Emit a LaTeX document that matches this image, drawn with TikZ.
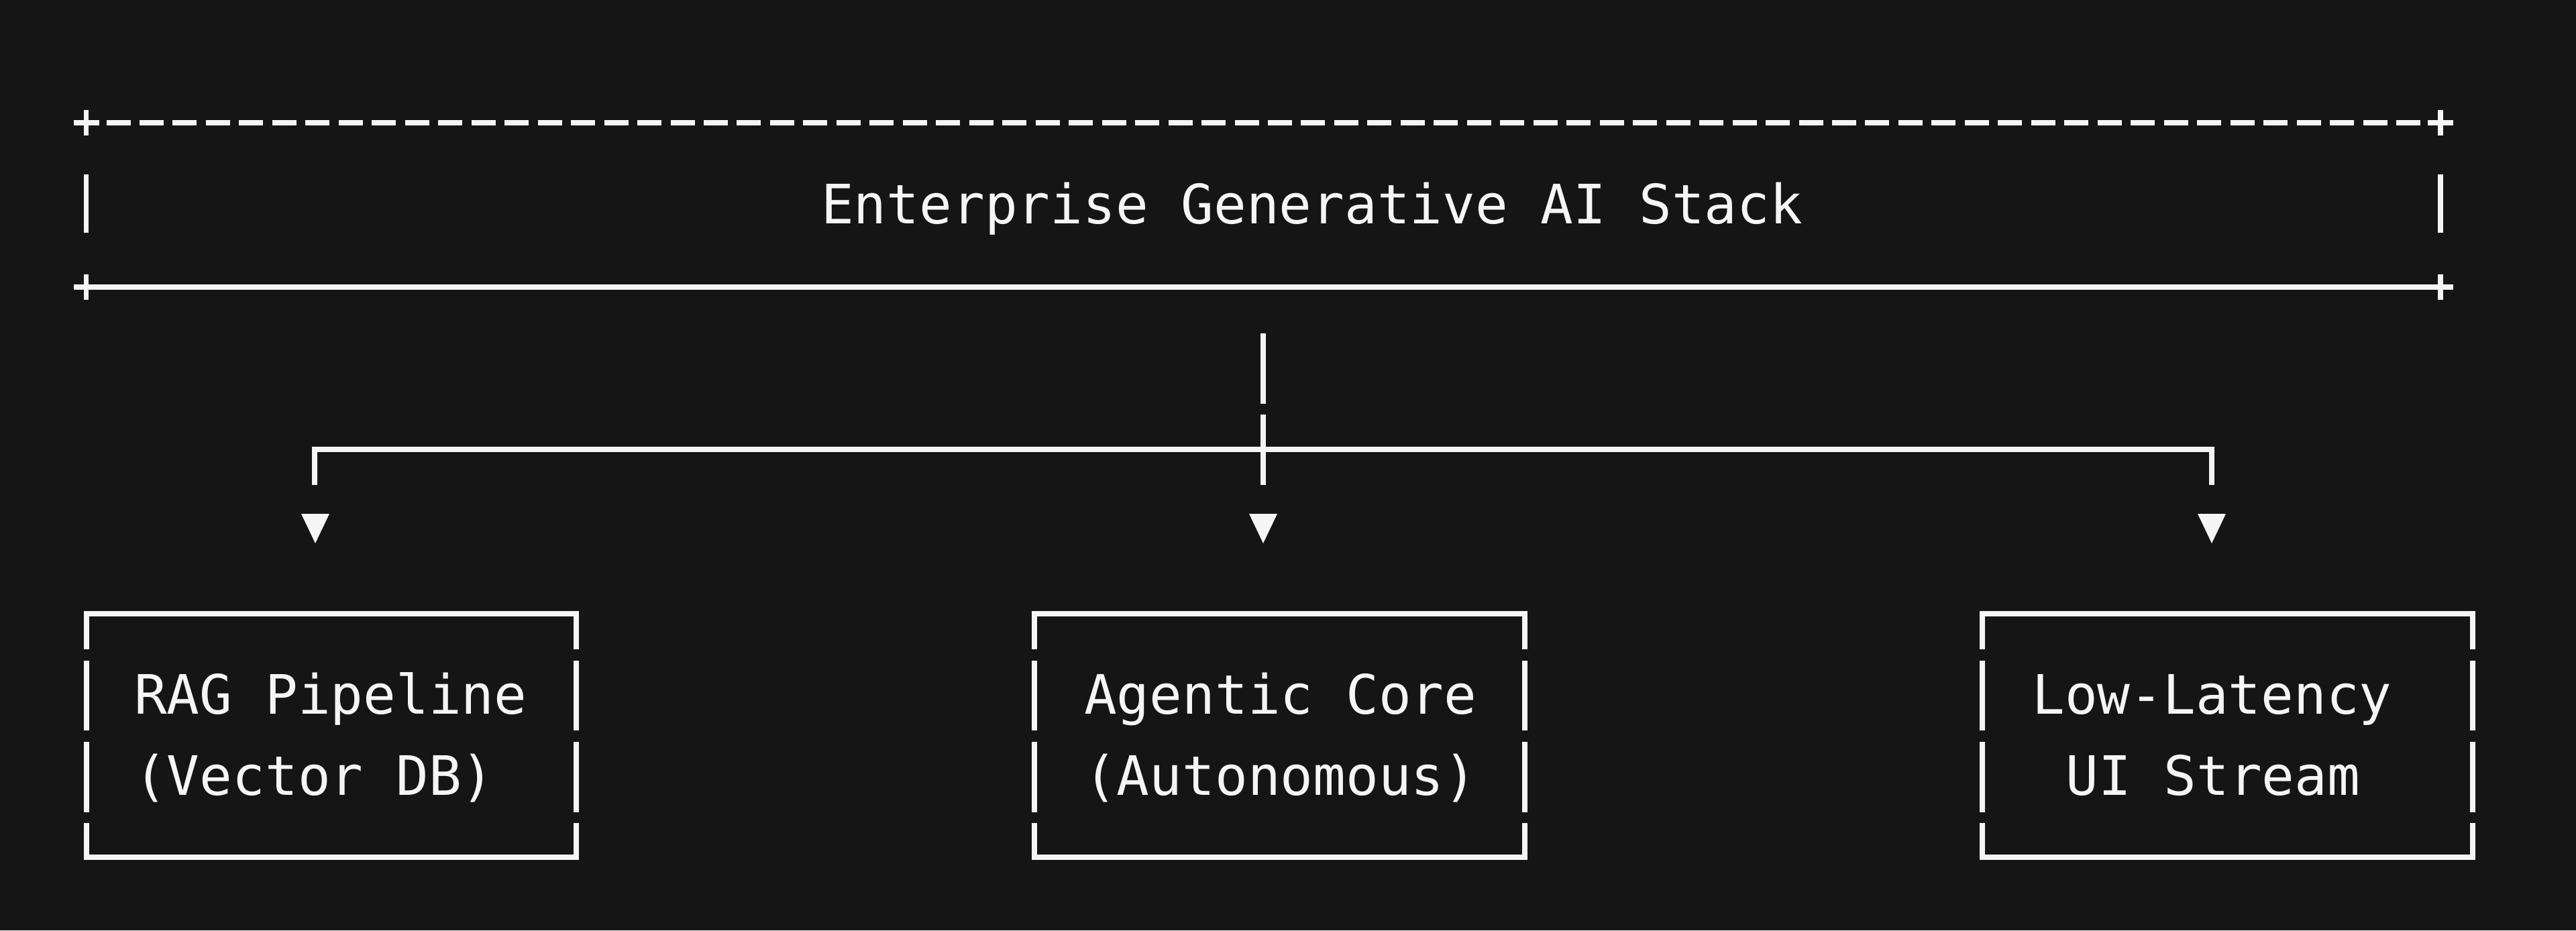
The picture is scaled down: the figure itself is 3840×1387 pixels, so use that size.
\documentclass[tikz,border=0pt]{standalone}
\usepackage{fontspec}
\setmonofont{DejaVu Sans Mono}
\definecolor{bg}{RGB}{21,21,21}
\definecolor{fg}{RGB}{245,245,245}
\begin{document}
\begin{tikzpicture}[x=1pt,y=-1pt,
  ln/.style={draw=fg,line width=7.5pt},
  dashln/.style={draw=fg,line width=7.5pt,dash pattern=on 36pt off 13.47pt},
  lbl/.style={text=fg,font=\ttfamily\fontsize{81}{121}\selectfont,inner sep=0pt,anchor=base west},
  tri/.style={fill=fg}]
\fill[bg] (0,0) rectangle (3840,1387);
\useasboundingbox (0,0) rectangle (3840,1387);

% ---- top box (ASCII frame) ----
\coordinate (tl) at (128.5,183);
\coordinate (tr) at (3638,183);
\coordinate (bl) at (128.5,428);
\coordinate (br) at (3638,428);
\draw[dashln] (158.5,183) -- (3608,183);
\foreach \p in {tl,tr,bl,br}{
  \draw[ln] ([xshift=-19pt]\p) -- ([xshift=19pt]\p);
  \draw[ln] ([yshift=-19pt]\p) -- ([yshift=19pt]\p);
}
\draw[ln] (bl) -- (br);
\draw[ln] (128.5,260) -- (128.5,347);
\draw[ln] (3638,260) -- (3638,347);
\node[lbl] (title) at (1224,333) {Enterprise Generative AI Stack};

% ---- connectors ----
\coordinate (hubtop) at (1883,497);
\coordinate (hubgapA) at (1883,602);
\coordinate (hubgapB) at (1883,618);
\coordinate (hubend) at (1883,723);
\coordinate (lcorner) at (469,670);
\coordinate (rcorner) at (3297,670);
\coordinate (lend) at (469,723);
\coordinate (rend) at (3297,723);
\draw[ln] (hubtop) -- (hubgapA);
\draw[ln] (hubgapB) -- (hubend);
\draw[ln] (lend) -- (lcorner) -- (rcorner) -- (rend);

\foreach \x/\n in {470/ta,1883/tb,3297/tc}{
  \fill[fg] (\x-21,766) -- (\x+21,766) -- (\x,810) -- cycle;
  \coordinate (\n) at (\x,810);
}

% ---- bottom boxes ----
\foreach \l/\r in {129/859,1542/2273,2955/3686}{
  \draw[ln] (\l,968) -- (\l,915) -- (\r,915) -- (\r,968);
  \draw[ln] (\l,1227) -- (\l,1278) -- (\r,1278) -- (\r,1227);
  \draw[ln] (\l,985) -- (\l,1089);
  \draw[ln] (\l,1106) -- (\l,1211);
  \draw[ln] (\r,985) -- (\r,1089);
  \draw[ln] (\r,1106) -- (\r,1211);
}
\node[lbl] (rag1) at (200,1064) {RAG Pipeline};
\node[lbl] (rag2) at (200,1185) {(Vector DB)};
\node[lbl] (ag1) at (1616,1064) {Agentic Core};
\node[lbl] (ag2) at (1616,1185) {(Autonomous)};
\node[lbl] (ui1) at (3029,1064) {Low-Latency};
\node[lbl] (ui2) at (3079,1185) {UI Stream};
\end{tikzpicture}
\end{document}
